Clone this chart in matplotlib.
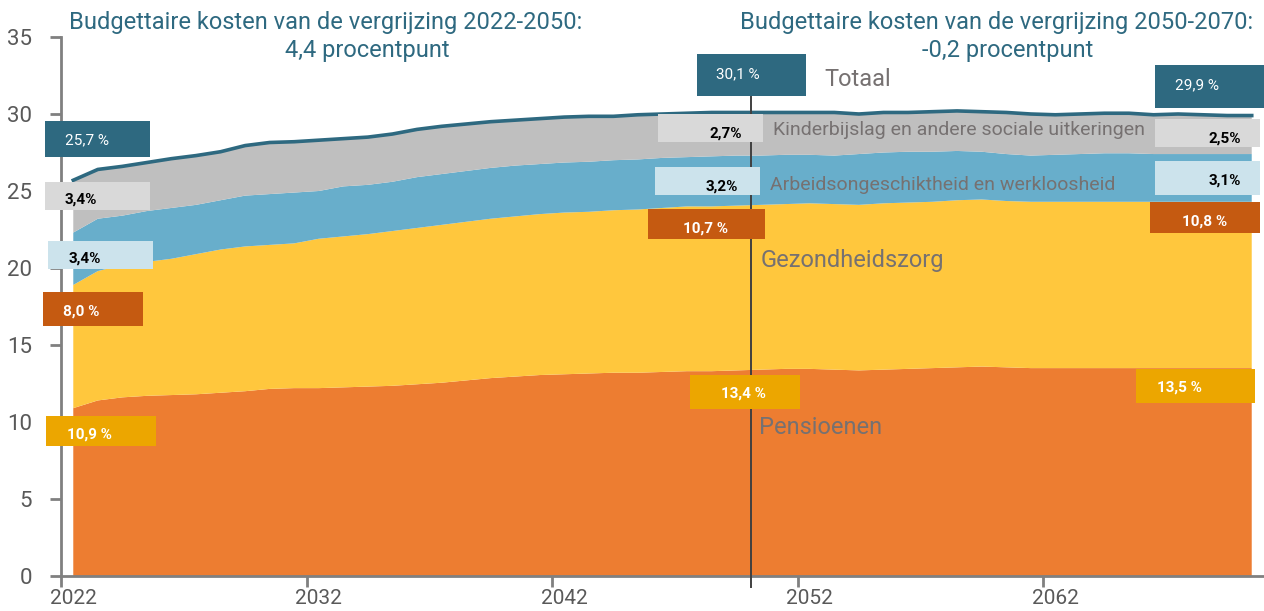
import numpy as np
import matplotlib
matplotlib.use("Agg")
import matplotlib.pyplot as plt
from matplotlib.patches import Rectangle
from matplotlib.transforms import Affine2D

# kosten van de vergrijzing, % bbp, per jaar 2022-2070
years = np.arange(2022, 2071)
pensioenen = [10.9, 11.4, 11.6, 11.7, 11.75, 11.8, 11.9, 12.0, 12.15, 12.2,
              12.2, 12.25, 12.3, 12.35, 12.45, 12.55, 12.7, 12.85, 12.95, 13.05,
              13.1, 13.15, 13.2, 13.2, 13.25, 13.3, 13.3, 13.35, 13.4, 13.45,
              13.45, 13.4, 13.35, 13.4, 13.45, 13.5, 13.55, 13.6, 13.55, 13.5,
              13.5, 13.5, 13.5, 13.5, 13.5, 13.5, 13.5, 13.5, 13.5]
gezondheidszorg = [8.0, 8.4, 8.6, 8.7, 8.85, 9.1, 9.3, 9.4, 9.35, 9.4,
                   9.7, 9.8, 9.9, 10.05, 10.15, 10.25, 10.3, 10.35, 10.4, 10.45,
                   10.5, 10.5, 10.55, 10.6, 10.65, 10.7, 10.7, 10.7, 10.7, 10.7,
                   10.75, 10.75, 10.75, 10.8, 10.8, 10.8, 10.85, 10.85, 10.8, 10.8,
                   10.8, 10.8, 10.8, 10.8, 10.8, 10.8, 10.8, 10.8, 10.8]
arbeid = [3.4, 3.4, 3.2, 3.3, 3.3, 3.2, 3.2, 3.3, 3.3, 3.3,
          3.1, 3.25, 3.2, 3.2, 3.3, 3.3, 3.3, 3.3, 3.3, 3.25,
          3.25, 3.25, 3.25, 3.25, 3.25, 3.2, 3.25, 3.25, 3.2, 3.2,
          3.15, 3.15, 3.3, 3.3, 3.3, 3.25, 3.2, 3.1, 3.05, 3.0,
          3.05, 3.1, 3.15, 3.15, 3.1, 3.1, 3.1, 3.1, 3.1]
kinderbijslag = [3.4, 3.2, 3.2, 3.15, 3.2, 3.2, 3.15, 3.25, 3.35, 3.3,
                 3.3, 3.1, 3.1, 3.1, 3.1, 3.1, 3.05, 3.0, 2.95, 2.95,
                 2.95, 2.95, 2.85, 2.9, 2.85, 2.85, 2.85, 2.8, 2.8, 2.75,
                 2.75, 2.8, 2.6, 2.6, 2.55, 2.6, 2.6, 2.6, 2.7, 2.7,
                 2.6, 2.6, 2.6, 2.6, 2.55, 2.6, 2.55, 2.5, 2.5]
totaal = np.sum([pensioenen, gezondheidszorg, arbeid, kinderbijslag], axis=0)

reeks_namen = ["Pensioenen", "Gezondheidszorg",
               "Arbeidsongeschiktheid en werkloosheid",
               "Kinderbijslag en andere sociale uitkeringen", "Totaal"]
titels = ["Budgettaire kosten van de vergrijzing 2022-2050:", "4,4 procentpunt",
          "Budgettaire kosten van de vergrijzing 2050-2070:", "-0,2 procentpunt"]
labels_2022 = ["25,7 %", "3,4%", "3,4%", "8,0 %", "10,9 %"]
labels_2050 = ["30,1 %", "2,7%", "3,2%", "10,7 %", "13,4 %"]
labels_2070 = ["29,9 %", "2,5%", "3,1%", "10,8 %", "13,5 %"]

plt.rcParams['font.family'] = ['Roboto', 'DejaVu Sans']

teal = '#2E6980'
grijs_tekst = '#767171'
kleuren = ['#ED7D31', '#FFC73D', '#68AECB', '#BFBFBF']

W, H = 1264, 611
fig = plt.figure(figsize=(W / 100, H / 100), dpi=100)
ax = fig.add_axes([61 / W, 35 / H, 1203 / W, 539 / H])

ax.stackplot(years, pensioenen, gezondheidszorg, arbeid, kinderbijslag,
             colors=kleuren, linewidth=0, zorder=1)
ax.plot(years, totaal, color=teal, lw=2.6, zorder=2)

ax.set_xlim(2021.5, 2070.5)
ax.set_ylim(0, 35)
ax.set_xticks(np.arange(2021.5, 2070, 10))
ax.set_xticklabels([])
ax.set_xticks(np.arange(2022, 2071, 10), minor=True)
ax.set_xticklabels([str(j) for j in range(2022, 2071, 10)], minor=True)
ax.set_yticks(np.arange(0, 36, 5))
ax.tick_params(axis='x', which='major', length=8, width=2, color='#808080')
ax.tick_params(axis='x', which='minor', length=0, pad=9, labelsize=15,
               labelcolor='#595959')
ax.tick_params(axis='y', length=8, width=2, color='#808080', pad=13,
               labelsize=16, labelcolor='#595959')
for s in ['top', 'right']:
    ax.spines[s].set_visible(False)
for s in ['left', 'bottom']:
    ax.spines[s].set_color('#808080')
    ax.spines[s].set_linewidth(2)

# verticale lijn bij 2050
ax.axvline(2049.6, ymin=-11 / 539, ymax=480 / 539, color='#404040', lw=1.4,
           clip_on=False, zorder=4)

# alles wat hieronder volgt staat in beeldpixels
px = Affine2D().scale(1 / W, -1 / H).translate(0, 1) + fig.transFigure

def box(x0, y0, x1, y1, kleur, z=3):
    fig.add_artist(Rectangle((x0, y1), x1 - x0, y0 - y1, transform=px,
                             facecolor=kleur, edgecolor='none', zorder=z))

def tekst(x, y, s, kleur, size, weight='normal', ha='left'):
    fig.text(x, y, s, transform=px, color=kleur, fontsize=size,
             fontweight=weight, ha=ha, va='center', zorder=6)

# titels
tekst(326, 22, titels[0], teal, 17, ha='center')
tekst(367, 51, titels[1], teal, 17, ha='center')
tekst(997, 22, titels[2], teal, 17, ha='center')
tekst(1008, 51, titels[3], teal, 17, ha='center')

box_kleuren = [teal, '#D9D9D9', '#CCE3EC', '#C55A11', '#ECA600']
tekst_kleuren = ['white', 'black', 'black', 'white', 'white']
gewichten = ['normal', 'bold', 'bold', 'bold', 'bold']

# 2022
rects = [(45, 121, 150, 157), (45, 182, 150, 210), (48, 241, 153, 269),
         (43, 292, 143, 326), (46, 416, 156, 446)]
tpos = [(65, 140), (65, 200), (69, 259), (63, 312), (67, 435)]
for r, t, s, k, tk, g in zip(rects, tpos, labels_2022, box_kleuren, tekst_kleuren, gewichten):
    box(*r, k)
    tekst(t[0], t[1], s, tk, 11, g)

# 2050
rects = [(697, 54, 806, 96), (658, 114, 763, 142), (655, 167, 760, 195),
         (648, 209, 765, 239), (690, 375, 800, 409)]
tpos = [(716, 74), (709, 134), (706, 187), (683, 229), (721, 394)]
for i, (r, t, s, k, tk, g) in enumerate(zip(rects, tpos, labels_2050, box_kleuren, tekst_kleuren, gewichten)):
    box(*r, k, z=5 if i == 4 else 3)
    tekst(t[0], t[1], s, tk, 11, g)

# 2070
rects = [(1155, 65, 1264, 108), (1155, 119, 1260, 147), (1155, 161, 1260, 195),
         (1150, 202, 1260, 233), (1136, 369, 1255, 403)]
tpos = [(1175, 85), (1241, 139), (1241, 181), (1182, 222), (1157, 388)]
for r, t, s, k, tk, g in zip(rects, tpos, labels_2070, box_kleuren, tekst_kleuren, gewichten):
    box(*r, k)
    ha = 'right' if tk == 'black' else 'left'
    tekst(t[0], t[1], s, tk, 11, g, ha=ha)

# reeksnamen
tekst(824, 80, reeks_namen[4], grijs_tekst, 17)
tekst(773, 130, reeks_namen[3], grijs_tekst, 14)
tekst(770, 185, reeks_namen[2], grijs_tekst, 14)
tekst(761, 260, reeks_namen[1], grijs_tekst, 17)
tekst(759, 427, reeks_namen[0], grijs_tekst, 17)

fig.savefig("out.png", dpi=100)
